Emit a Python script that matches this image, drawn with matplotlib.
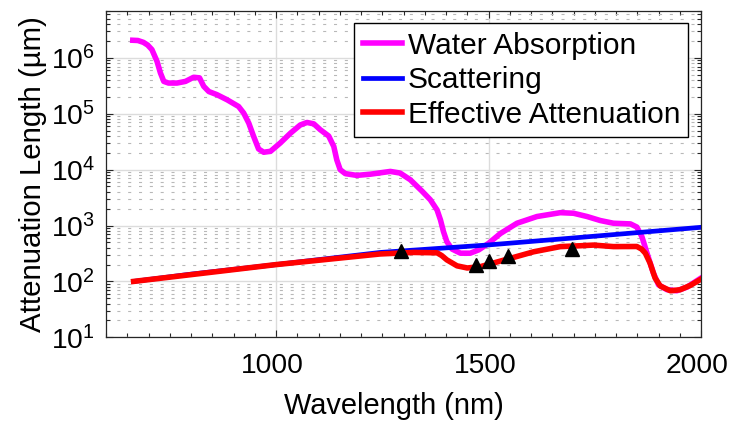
import numpy as np
import matplotlib
matplotlib.use("Agg")
from matplotlib import pyplot as plt
from matplotlib import ticker
from matplotlib import transforms

plt.rcParams['font.family'] = ['Liberation Sans', 'DejaVu Sans']
plt.rcParams['mathtext.fontset'] = 'custom'
plt.rcParams['mathtext.rm'] = 'Liberation Sans'
plt.rcParams['mathtext.it'] = 'Liberation Sans:italic'
plt.rcParams['lines.scale_dashes'] = False

FS = 20.3

# water absorption length (um) vs wavelength (nm)
water_nm = [663, 675, 688, 698, 708, 720, 728, 736, 747, 767, 787, 806, 820, 830,
            842, 861, 885, 912, 924, 936, 947, 959, 971, 987, 1010, 1034, 1057,
            1073, 1089, 1104, 1124, 1136, 1143, 1151, 1163, 1190, 1222, 1269, 1292,
            1316, 1344, 1363, 1379, 1387, 1394, 1402, 1414, 1434, 1457, 1477, 1500,
            1528, 1567, 1614, 1669, 1700, 1732, 1763, 1794, 1834, 1849, 1861, 1873,
            1888, 1900, 1920, 1943, 1967, 2000]
water_um = [2.07e6, 2.05e6, 1.9e6, 1.7e6, 1.41e6, 8.7e5, 5.4e5, 3.8e5, 3.55e5,
            3.55e5, 3.8e5, 4.5e5, 4.4e5, 3.1e5, 2.5e5, 2.2e5, 1.78e5, 1.35e5,
            1.03e5, 6.8e4, 4.0e4, 2.35e4, 2.05e4, 2.13e4, 3.0e4, 4.5e4, 6.3e4,
            7.0e4, 6.6e4, 5.2e4, 4.0e4, 2.6e4, 1.5e4, 1.0e4, 8.5e3, 7.9e3, 8.3e3,
            9.3e3, 8.7e3, 6.6e3, 4.1e3, 2.9e3, 1.9e3, 1.26e3, 780, 515, 380, 320,
            320, 367, 480, 720, 1100, 1450, 1700, 1660, 1450, 1230, 1100, 1070,
            940, 630, 320, 141, 87, 71, 68, 79, 115]

# scattering length
scat_nm = [665, 800, 1000, 1245, 1500, 1700, 2000]
scat_um = [100, 135, 200, 330, 450, 600, 930]

# effective attenuation length
eff_nm = [665, 1000, 1245, 1324, 1379, 1390, 1402, 1426, 1450, 1481, 1512, 1559,
          1606, 1669, 1716, 1747, 1794, 1849, 1860, 1869, 1880, 1892, 1904, 1928,
          1951, 1975, 2000]
eff_um = [100, 200, 310, 330, 325, 290, 243, 190, 174, 184, 214, 269,
          339, 420, 435, 447, 420, 422, 380, 320, 214, 115, 83, 68,
          71, 85, 110]

# measured points
meas_nm = [1295, 1471, 1502, 1546, 1696]
meas_um = [355, 200, 235, 290, 380]

fig = plt.figure(figsize=(7.31, 4.21), dpi=100)
ax = fig.add_axes([106/731, 1 - 337.3/421, 595/731, 326.6/421])

ax.plot(water_nm, water_um, color='#ff00ff', lw=4.0, label='Water Absorption')
ax.plot(scat_nm, scat_um, color='#0000ff', lw=3.4, label='Scattering')
ax.plot(eff_nm, eff_um, color='#ff0000', lw=4.0, label='Effective Attenuation')
ax.plot(meas_nm, meas_um, '^', color='black', ms=9.5, zorder=5)

ax.set_yscale('log')
ax.set_xlim(600, 2000)
ax.set_ylim(10, 7e6)
ax.xaxis.set_major_locator(ticker.MultipleLocator(500))
ax.xaxis.set_minor_locator(ticker.MultipleLocator(50))
ax.yaxis.set_major_locator(ticker.LogLocator(base=10, numticks=10))
ax.yaxis.set_minor_locator(ticker.LogLocator(base=10, subs=np.arange(2, 10), numticks=20))
ax.yaxis.set_minor_formatter(ticker.NullFormatter())

ax.grid(True, which='major', color='#dcdcdc', lw=1.0)
ax.grid(True, which='minor', axis='y', color='#b8b8b8', lw=0.8, linestyle=(0, (2.2, 5.6)))
ax.set_axisbelow(True)

ax.tick_params(which='both', direction='in', top=True, right=True, colors='#262626',
               labelcolor='black', labelsize=FS)
ax.tick_params(axis='x', which='major', length=5, width=0.8, pad=11)
ax.tick_params(axis='y', which='major', length=5, width=0.8, pad=8)
ax.tick_params(which='minor', length=3, width=0.8)
for s in ax.spines.values():
    s.set_color('#262626')
    s.set_linewidth(0.9)

# x tick labels sit a little left of their ticks in the original
shift = transforms.ScaledTranslation(-3.7/100, 0, fig.dpi_scale_trans)
for lab in ax.get_xticklabels():
    lab.set_transform(lab.get_transform() + shift)

ax.set_xlabel('Wavelength (nm)', fontsize=20.9)
ax.xaxis.set_label_coords(0.484, -0.168)
ax.set_ylabel('Attenuation Length (µm)', fontsize=21.2, labelpad=3)

leg = ax.legend(loc='upper right', fontsize=21.5, frameon=True, fancybox=False,
                edgecolor='black', framealpha=1, handlelength=1.3, handletextpad=0.2,
                labelspacing=0.22, borderpad=0.28, borderaxespad=0.42)
leg.get_frame().set_linewidth(1.0)

fig.savefig('out.png', dpi=100)
